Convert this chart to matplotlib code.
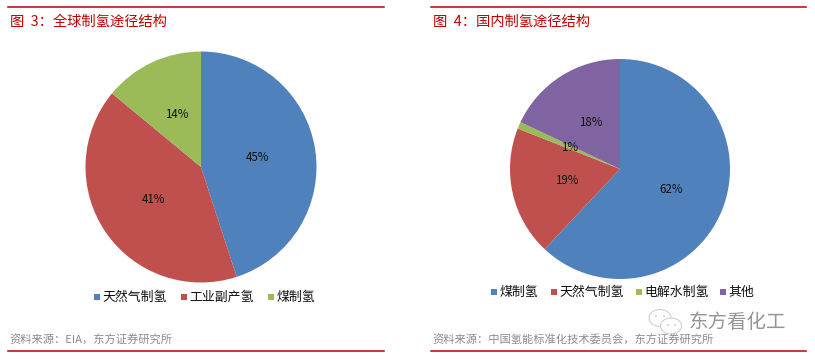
import matplotlib
matplotlib.use("Agg")
import matplotlib.pyplot as plt
from matplotlib.patches import Ellipse, Rectangle

plt.rcParams['font.family'] = ['Noto Sans CJK SC', 'DejaVu Sans']

W, H = 815, 360

COLON = "\uff1a"
COMMA = "\uff0c"
title_left = "图  3" + COLON + "全球制氢途径结构"
title_right = "图  4" + COLON + "国内制氢途径结构"
source_left = "资料来源" + COLON + "EIA" + COMMA + "东方证券研究所"
source_right = "资料来源" + COLON + "中国氢能标准化技术委员会" + COMMA + "东方证券研究所"
watermark = "东方看化工"

labels_left = ["天然气制氢", "工业副产氢", "煤制氢"]
values_left = [45, 41, 14]
colors_left = ["#4F81BD", "#C0504D", "#9BBB59"]

labels_right = ["煤制氢", "天然气制氢", "电解水制氢", "其他"]
values_right = [62, 19, 1, 18]
colors_right = ["#4F81BD", "#C0504D", "#9BBB59", "#8064A2"]

RED = "#C00000"

fig = plt.figure(figsize=(W / 100, H / 100), dpi=100, facecolor="white")
bg = fig.add_axes([0, 0, 1, 1])
bg.set_xlim(0, W)
bg.set_ylim(H, 0)
bg.axis("off")


def pie(cx, cy, r, values, colors):
    pad = r + 1
    ax = fig.add_axes([(cx - pad) / W, 1 - (cy + pad) / H, 2 * pad / W, 2 * pad / H])
    wedges, texts, autotexts = ax.pie(
        values, colors=colors, startangle=90, counterclock=False, radius=1,
        autopct=lambda p: f"{p:.0f}%", pctdistance=0.5,
        textprops=dict(fontsize=8.3, color="#111111"),
    )
    ax.set_xlim(-pad / r, pad / r)
    ax.set_ylim(-pad / r, pad / r)
    ax.set_aspect("equal")
    return wedges


def legend(x_start, y, labels, colors, gaps):
    x = x_start
    for label, c, gap in zip(labels, colors, gaps):
        bg.add_patch(Rectangle((x, y - 3), 6, 6, facecolor=c, edgecolor="none"))
        bg.text(x + 8.5, y, label, fontsize=9.3, color="#111111", va="center", ha="left")
        x += gap


# left panel
bg.plot([8, 384], [7, 7], color=RED, lw=1.1)
bg.plot([8, 384], [351, 351], color=RED, lw=1.1)
bg.text(10, 22, title_left, color=RED, fontsize=10.3, va="center", ha="left")
bg.text(9, 340, source_left, color="#8C8C8C", fontsize=8.1, va="center", ha="left")
pie(201, 167, 115.5, values_left, colors_left)
legend(94, 297, labels_left, colors_left, [87, 87, 60])

# right panel
bg.plot([431, 806], [7, 7], color=RED, lw=1.1)
bg.plot([431, 806], [351, 351], color=RED, lw=1.1)
bg.text(433, 22, title_right, color=RED, fontsize=10.3, va="center", ha="left")
bg.text(432.5, 340, source_right, color="#8C8C8C", fontsize=8.1, va="center", ha="left")
pie(620, 169, 110, values_right, colors_right)
legend(491, 292, labels_right, colors_right, [60, 85, 84, 40])

# watermark
for (ex, ey, ew, eh) in [(660, 318, 22, 17), (671, 326, 21, 16)]:
    bg.add_patch(Ellipse((ex, ey), ew, eh, facecolor="white", edgecolor="#CFCFCF", lw=0.8))
for (ex, ey) in [(656, 316), (664, 316), (668, 325), (675, 325)]:
    bg.add_patch(Ellipse((ex, ey), 2, 2, facecolor="#CFCFCF", edgecolor="none"))
bg.text(689, 323, watermark, color="#8A8A8A", fontsize=14, va="center", ha="left", alpha=0.9)

fig.savefig("out.png", dpi=100, facecolor="white")
